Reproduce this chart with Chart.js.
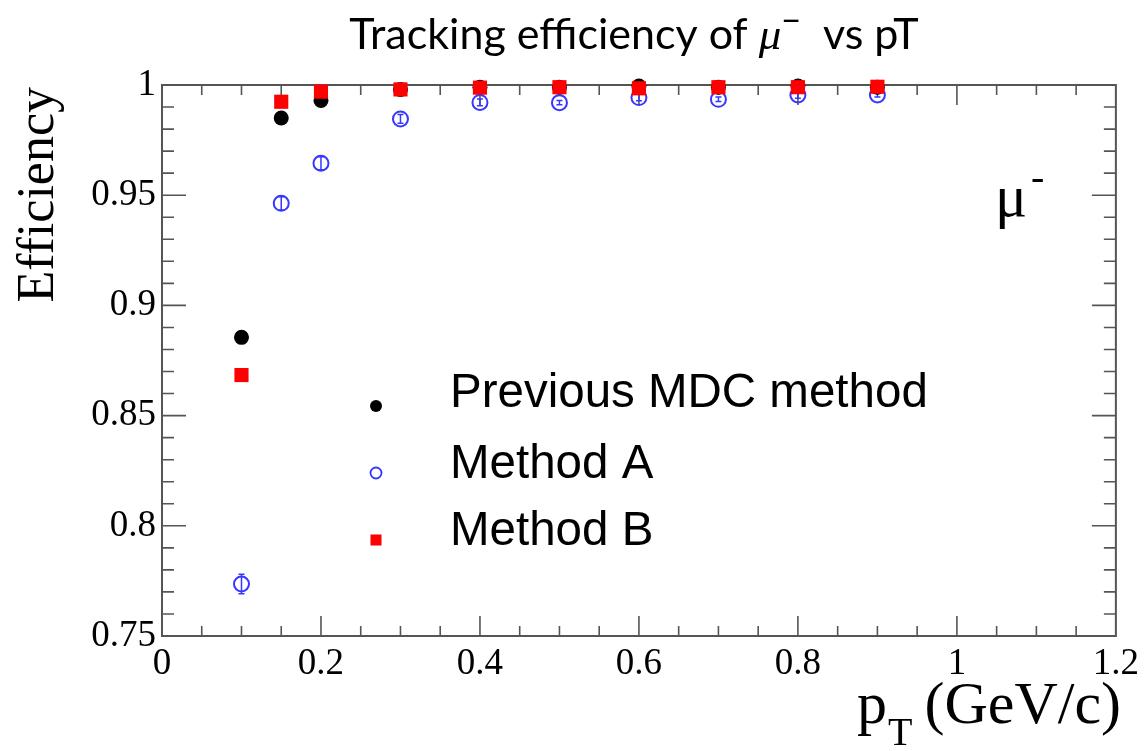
<!DOCTYPE html>
<html>
<head>
<meta charset="utf-8">
<script src="https://cdn.jsdelivr.net/npm/chart.js@4.4.1/dist/chart.umd.min.js"></script>
<style>
  body { margin: 0; background: #fff; }
  #wrap { width: 1145px; height: 751px; }
</style>
</head>
<body>
<div id="wrap"><canvas id="c" width="1145" height="751"></canvas></div>
<script>
// pT bins (GeV/c)
const pt = [0.1, 0.15, 0.2, 0.3, 0.4, 0.5, 0.6, 0.7, 0.8, 0.9];

// efficiencies
const effPrev = [0.8855, 0.985, 0.993, 0.998, 0.999, 0.999, 0.9995, 0.999, 0.9995, 0.999];
const errPrev = [0.001, 0.001, 0.001, 0.0008, 0.0008, 0.0008, 0.0008, 0.0008, 0.0015, 0.0008];
const effA = [0.7736, 0.9463, 0.9645, 0.9846, 0.9921, 0.992, 0.9943, 0.9935, 0.9955, 0.9955];
const errA = [0.0044, 0.003, 0.003, 0.002, 0.0015, 0.001, 0.0015, 0.001, 0.0015, 0.001];
const effB = [0.8684, 0.9924, 0.997, 0.998, 0.9988, 0.999, 0.9985, 0.999, 0.999, 0.9992];
const errB = [0.0015, 0.001, 0.0008, 0.0005, 0.0005, 0.0005, 0.0005, 0.0005, 0.0005, 0.0005];

const legendLabels = ["Previous MDC method", "Method A", "Method B"];

const BLUE = "rgb(55,55,255)";
const RED = "rgb(255,0,0)";
const AXIS = "#555";

function pts(ys) {
  return pt.map((x, i) => ({ x: x, y: ys[i] }));
}

// ROOT style frame: box with inward ticks on all four sides
const framePlugin = {
  id: "frame",
  beforeDatasetsDraw(chart) {
    const { ctx, chartArea: a, scales } = chart;
    ctx.save();
    ctx.strokeStyle = AXIS;
    ctx.lineWidth = 2;
    ctx.strokeRect(a.left, a.top, a.right - a.left, a.bottom - a.top);
    ctx.lineWidth = 1.6;
    ctx.beginPath();
    // x ticks, minor every 0.05
    for (let i = 1; i < 24; i++) {
      const v = i * 0.05;
      const px = scales.x.getPixelForValue(v);
      const len = i % 4 === 0 ? 20 : 10;
      ctx.moveTo(px, a.bottom); ctx.lineTo(px, a.bottom - len);
      ctx.moveTo(px, a.top); ctx.lineTo(px, a.top + len);
    }
    // y ticks, minor every 0.01
    for (let i = 1; i < 25; i++) {
      const v = 0.75 + i * 0.01;
      const py = scales.y.getPixelForValue(v);
      const len = i % 5 === 0 ? 24 : 12;
      ctx.moveTo(a.left, py); ctx.lineTo(a.left + len, py);
      ctx.moveTo(a.right, py); ctx.lineTo(a.right - len, py);
    }
    ctx.stroke();
    ctx.restore();
  }
};

// vertical error bars with small caps
const errorPlugin = {
  id: "errbars",
  beforeDatasetsDraw(chart) {
    const { ctx, scales } = chart;
    ctx.save();
    chart.data.datasets.forEach(ds => {
      if (!ds.errors) return;
      ctx.strokeStyle = ds.errColor;
      ctx.lineWidth = 1.5;
      ctx.beginPath();
      ds.data.forEach((p, i) => {
        const px = scales.x.getPixelForValue(p.x);
        const y1 = scales.y.getPixelForValue(p.y - ds.errors[i]);
        const y2 = scales.y.getPixelForValue(p.y + ds.errors[i]);
        ctx.moveTo(px, y1); ctx.lineTo(px, y2);
        ctx.moveTo(px - 3, y1); ctx.lineTo(px + 3, y1);
        ctx.moveTo(px - 3, y2); ctx.lineTo(px + 3, y2);
      });
      ctx.stroke();
    });
    ctx.restore();
  }
};

// title, axis titles, legend and the mu- label
const textPlugin = {
  id: "texts",
  afterDraw(chart) {
    const { ctx, chartArea: a } = chart;
    ctx.save();
    ctx.fillStyle = "#000";
    ctx.textBaseline = "alphabetic";

    // title with italic mu and superscript minus
    const f1 = "43px Lato";
    const fMu = "italic 45px 'Liberation Serif'";
    const fSup = "34px Lato";
    const parts = [
      [ "Tracking efficiency of ", f1, 0 ],
      [ "\u03BC", fMu, 0 ],
      [ "\u2212", fSup, -16 ],
      [ "  vs pT", f1, 0 ]
    ];
    let w = 0;
    parts.forEach(p => { ctx.font = p[1]; w += ctx.measureText(p[0]).width; });
    let x = 634 - w / 2;
    parts.forEach(p => {
      ctx.font = p[1];
      ctx.fillText(p[0], x, 49 + p[2]);
      x += ctx.measureText(p[0]).width;
    });

    // y axis title
    ctx.save();
    ctx.translate(53, a.top + 2);
    ctx.rotate(-Math.PI / 2);
    ctx.font = "52px 'Liberation Serif'";
    ctx.textAlign = "right";
    ctx.fillText("Efficiency", 0, 0);
    ctx.restore();

    // x axis title: p_T (GeV/c)
    ctx.font = "60px 'Liberation Serif'";
    ctx.textAlign = "left";
    let xx = 857;
    ctx.fillText("p", xx, 723);
    xx += ctx.measureText("p").width + 1;
    ctx.font = "40px 'Liberation Serif'";
    ctx.fillText("T", xx, 745);
    xx += ctx.measureText("T").width + 12;
    ctx.font = "60px 'Liberation Serif'";
    ctx.fillText("(GeV/c)", xx, 723);

    // mu- label
    ctx.font = "60px 'Liberation Serif'";
    ctx.fillText("\u03BC", 995, 216);
    ctx.font = "40px 'Liberation Serif'";
    ctx.fillText("-", 1031, 190);

    // legend
    const ds = chart.data.datasets;
    const textY = [394, 465, 532];
    const markY = [406, 473, 540];
    ctx.font = "47.5px 'Liberation Sans'";
    ctx.textBaseline = "middle";
    [0, 1, 2].forEach((k, i) => {
      ctx.fillStyle = "#000";
      ctx.fillText(legendLabels[k], 450, textY[i]);
      const d = ds.find(s => s.key === k);
      if (d.pointStyle === "rect") {
        ctx.fillStyle = d.backgroundColor;
        ctx.fillRect(376 - 5.5, markY[i] - 5.5, 11, 11);
      } else if (d.hollow) {
        ctx.strokeStyle = d.borderColor;
        ctx.lineWidth = 1.8;
        ctx.beginPath(); ctx.arc(376, markY[i], 5.5, 0, Math.PI * 2); ctx.stroke();
      } else {
        ctx.fillStyle = d.backgroundColor;
        ctx.beginPath(); ctx.arc(376, markY[i], 6, 0, Math.PI * 2); ctx.fill();
      }
    });
    ctx.restore();
  }
};

const tickFont = { family: "'Liberation Serif'", size: 37 };

new Chart(document.getElementById("c"), {
  type: "scatter",
  data: {
    datasets: [
      {
        key: 2, label: legendLabels[2], data: pts(effB), errors: errB, errColor: RED,
        pointStyle: "rect", pointRadius: 10, pointHoverRadius: 10,
        backgroundColor: RED, borderColor: RED, borderWidth: 0, order: 1, clip: false
      },
      {
        key: 1, label: legendLabels[1], data: pts(effA), errors: errA, errColor: BLUE, hollow: true,
        pointStyle: "circle", pointRadius: 7.5, pointHoverRadius: 7.5,
        backgroundColor: "rgba(0,0,0,0)", borderColor: BLUE, borderWidth: 2, order: 2, clip: false
      },
      {
        key: 0, label: legendLabels[0], data: pts(effPrev), errors: errPrev, errColor: "#000",
        pointStyle: "circle", pointRadius: 7.5, pointHoverRadius: 7.5,
        backgroundColor: "#000", borderColor: "#000", borderWidth: 0, order: 3, clip: false
      }
    ]
  },
  options: {
    responsive: false,
    animation: false,
    devicePixelRatio: 1,
    layout: { padding: { top: 85, right: 27, left: 0, bottom: 0 } },
    scales: {
      x: {
        type: "linear", min: 0, max: 1.2,
        border: { display: false },
        grid: { display: false, drawTicks: false },
        ticks: {
          stepSize: 0.2, padding: 6, color: "#000", font: tickFont, maxRotation: 0,
          callback: v => String(+v.toFixed(2))
        },
        afterFit: s => { s.height = 115; }
      },
      y: {
        type: "linear", min: 0.75, max: 1,
        border: { display: false },
        grid: { display: false, drawTicks: false },
        ticks: {
          stepSize: 0.05, padding: 6, color: "#000", font: tickFont,
          callback: v => String(+v.toFixed(2))
        },
        afterFit: s => { s.width = 162; }
      }
    },
    plugins: {
      legend: { display: false },
      title: { display: false },
      tooltip: { enabled: false }
    }
  },
  plugins: [framePlugin, errorPlugin, textPlugin]
});
</script>
</body>
</html>
